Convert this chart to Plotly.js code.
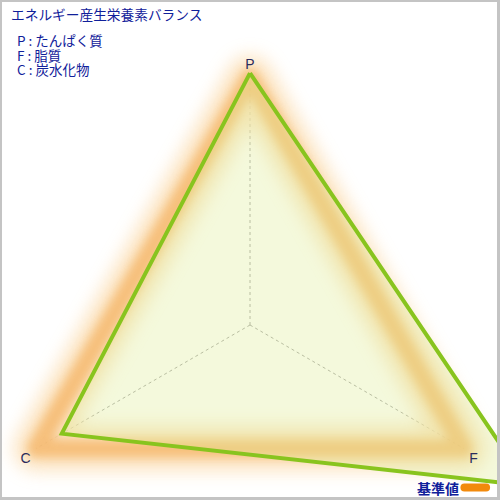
<!DOCTYPE html>
<html>
<head>
<meta charset="utf-8">
<script src="https://cdn.plot.ly/plotly-3.0.1.min.js"></script>
<style>
  html, body { margin: 0; padding: 0; background: #fff; overflow: hidden; }
  #frame { position: relative; width: 500px; height: 500px; overflow: hidden; }
  #chart { position: absolute; left: 0; top: 0; width: 500px; height: 650px; }
  #border { position: absolute; left: 0; top: 0; width: 500px; height: 500px; box-sizing: border-box;
            border: 2px solid #c4c4c4; border-right-width: 3px; border-bottom-width: 3px; pointer-events: none; }
</style>
</head>
<body>
<div id="frame">
  <div id="chart"></div>
  <div id="border"></div>
</div>
<script>
// PFC balance, values relative to the standard (1 = standard)
const categories = ["P", "F", "C"];
const intake = [1.02, 1.30, 0.88];
const standard = [1, 1, 1];

const chartTitle = "エネルギー産生栄養素バランス";
const keyLines = ["P : たんぱく質", "F : 脂質", "C : 炭水化物"];
const legendLabel = "基準値";

const W = 500, H = 650;
const textBlue = "#10209a";
const jpFont = "Noto Sans CJK JP";

function closeLoop(arr) {
  return arr.concat([arr[0]]);
}
function py(px) {
  return 1 - px / H;
}

let data = [
  {
    // wide pale halo of the standard triangle
    type: "scatterpolar",
    r: closeLoop(standard),
    theta: closeLoop(categories),
    mode: "lines",
    line: { color: "#fbdcae", width: 44 },
    opacity: 0.8,
    cliponaxis: false,
    hoverinfo: "skip",
    name: legendLabel
  },
  {
    // orange core of the standard triangle
    type: "scatterpolar",
    r: closeLoop(standard),
    theta: closeLoop(categories),
    mode: "lines",
    line: { color: "#f4b262", width: 18 },
    opacity: 0.72,
    cliponaxis: false,
    hoverinfo: "skip",
    name: legendLabel
  },
  {
    type: "scatterpolar",
    r: closeLoop(intake),
    theta: closeLoop(categories),
    mode: "lines",
    fill: "toself",
    fillcolor: "rgba(222,236,150,0.33)",
    line: { color: "#88c41e", width: 4 },
    cliponaxis: false,
    hoverinfo: "skip",
    name: "intake"
  }
];

let annotations = [
  {
    xref: "paper", yref: "paper", x: 6 / W, y: py(14),
    xanchor: "left", yanchor: "middle", align: "left", showarrow: false,
    text: chartTitle,
    font: { family: jpFont, size: 13.7, color: textBlue }
  },
  {
    xref: "paper", yref: "paper", x: 464 / W, y: py(488),
    xanchor: "right", yanchor: "middle", showarrow: false,
    text: legendLabel,
    font: { family: jpFont, size: 14, color: textBlue, weight: "bold" }
  }
];
keyLines.forEach(function(line, i) {
  annotations.push({
    xref: "paper", yref: "paper", x: 12 / W, y: py(40.5 + i * 14),
    xanchor: "left", yanchor: "middle", align: "left", showarrow: false,
    text: line,
    font: { family: jpFont, size: 13.5, color: textBlue }
  });
});

let layout = {
  width: W,
  height: H,
  margin: { l: 3, r: 3, t: 0, b: 0 },
  paper_bgcolor: "#ffffff",
  showlegend: false,
  polar: {
    domain: { x: [0, 1], y: [0, 1] },
    bgcolor: "rgba(0,0,0,0)",
    radialaxis: { range: [0, 1], visible: false, showgrid: false },
    angularaxis: {
      type: "category",
      categoryarray: categories,
      rotation: 90,
      direction: "clockwise",
      showline: false,
      showgrid: true,
      gridcolor: "#a8a8a8",
      griddash: "dot",
      gridwidth: 1,
      ticks: "outside",
      ticklen: 3,
      tickcolor: "rgba(0,0,0,0)",
      tickfont: { family: "Liberation Sans, Arial, sans-serif", size: 14, color: "#2b2b5c" }
    }
  },
  annotations: annotations,
  shapes: [
    {
      type: "path", xref: "paper", yref: "paper",
      path: "M " + 467 / W + " " + py(483.5) + " L " + 489 / W + " " + py(483.5) +
            " Q " + 493 / W + " " + py(483.5) + " " + 493 / W + " " + py(487.5) +
            " Q " + 493 / W + " " + py(491.5) + " " + 489 / W + " " + py(491.5) +
            " L " + 467 / W + " " + py(491.5) +
            " Q " + 463 / W + " " + py(491.5) + " " + 463 / W + " " + py(487.5) +
            " Q " + 463 / W + " " + py(483.5) + " " + 467 / W + " " + py(483.5) + " Z",
      fillcolor: "#f28a0c",
      line: { width: 0 }
    }
  ]
};

Plotly.newPlot("chart", data, layout, { displayModeBar: false, staticPlot: true }).then(function(gd) {
  // let the intake triangle run past the circle, like the original
  gd.querySelectorAll(".polarlayer [clip-path]").forEach(function(el) {
    el.removeAttribute("clip-path");
  });

  // soft blur for the standard triangle glow
  const ns = "http://www.w3.org/2000/svg";
  const svg = gd.querySelector("svg.main-svg");
  let defs = svg.querySelector("defs");
  [["glowwide", 9], ["glowcore", 5]].forEach(function(f) {
    const filter = document.createElementNS(ns, "filter");
    filter.setAttribute("id", f[0]);
    filter.setAttribute("x", "-40%");
    filter.setAttribute("y", "-40%");
    filter.setAttribute("width", "180%");
    filter.setAttribute("height", "180%");
    const blur = document.createElementNS(ns, "feGaussianBlur");
    blur.setAttribute("stdDeviation", f[1]);
    filter.appendChild(blur);
    defs.appendChild(filter);
  });

  let traces = gd.querySelectorAll(".polarlayer .scatterlayer .trace");
  ["glowwide", "glowcore"].forEach(function(id, i) {
    if (!traces[i]) return;
    traces[i].setAttribute("filter", "url(#" + id + ")");
    traces[i].querySelectorAll("path.js-line").forEach(function(p) {
      p.style.strokeLinejoin = "round";
      p.style.strokeLinecap = "round";
    });
  });
});
</script>
</body>
</html>
